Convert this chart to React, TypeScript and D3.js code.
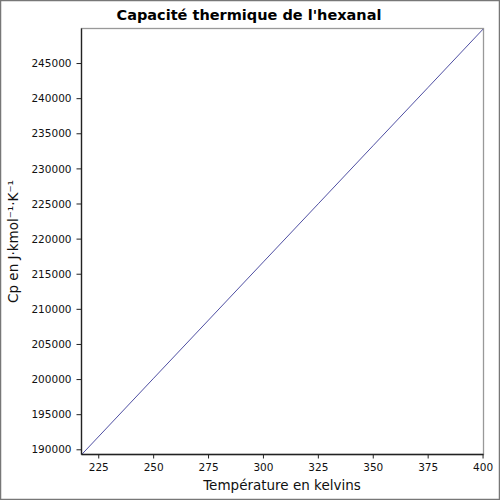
import React from "react";
import * as d3 from "d3";

const temperatures = [217.15, 250, 275, 300, 325, 350, 375, 400];
const cpValues = [189300, 200190, 208470, 216760, 225040, 233330, 241610, 249900];
const xTicks = [225, 250, 275, 300, 325, 350, 375, 400];
const yTicks = [190000, 195000, 200000, 205000, 210000, 215000, 220000, 225000, 230000, 235000, 240000, 245000];
const title = "Capacité thermique de l'hexanal";
const xLabel = "Température en kelvins";
const yLabel = "Cp en J·kmol⁻¹·K⁻¹";

export default function App() {
  const W = 500, H = 500;
  const left = 81.5, right = 483.5, top = 28.5, bottom = 454.5;
  const x = d3.scaleLinear().domain([217.15, 400.2]).range([left, right]);
  const y = d3.scaleLinear().domain([189330, 249990]).range([bottom, top]);
  const line = d3.line<number>()
    .x((_, i) => x(temperatures[i]))
    .y((d) => y(d));
  const font = "DejaVu Sans, sans-serif";
  return (
    <svg width={W} height={H} style={{ position: "absolute", left: 0, top: 0, background: "#fff" }} fontFamily={font}>
      <rect x={0.5} y={0.5} width={W - 1} height={H - 1} fill="#fff" stroke="#777" strokeWidth={1.5} />
      <text x={249} y={20} textAnchor="middle" fontSize={14.5} fontWeight="bold">{title}</text>
      <rect x={left} y={top} width={right - left} height={bottom - top} fill="#fff" stroke="#999" strokeWidth={1.3} />
      <defs>
        <clipPath id="clip"><rect x={left} y={top} width={right - left} height={bottom - top} /></clipPath>
      </defs>
      <path d={line(cpValues) || ""} fill="none" stroke="#22228a" strokeWidth={0.8} clipPath="url(#clip)" />
      <line x1={left} x2={right} y1={bottom} y2={bottom} stroke="#222" strokeWidth={1.3} />
      <line x1={left} x2={left} y1={top} y2={bottom} stroke="#222" strokeWidth={1.3} />
      {xTicks.map((t) => (
        <g key={t} transform={`translate(${x(t)},${bottom})`}>
          <line y1={0} y2={4} stroke="#222" strokeWidth={1} />
          <text y={16} textAnchor="middle" fontSize={10.5} fill="#111">{t}</text>
        </g>
      ))}
      {yTicks.map((t) => (
        <g key={t} transform={`translate(${left},${y(t)})`}>
          <line x1={0} x2={-5} stroke="#222" strokeWidth={1} />
          <text x={-10} dy="0.35em" textAnchor="end" fontSize={10.5} fill="#111">{t}</text>
        </g>
      ))}
      <text x={282} y={490} textAnchor="middle" fontSize={13.5} fill="#111">{xLabel}</text>
      <text transform={`translate(18,${(top + bottom) / 2}) rotate(-90)`} textAnchor="middle" fontSize={13.5} fill="#111">{yLabel}</text>
    </svg>
  );
}
